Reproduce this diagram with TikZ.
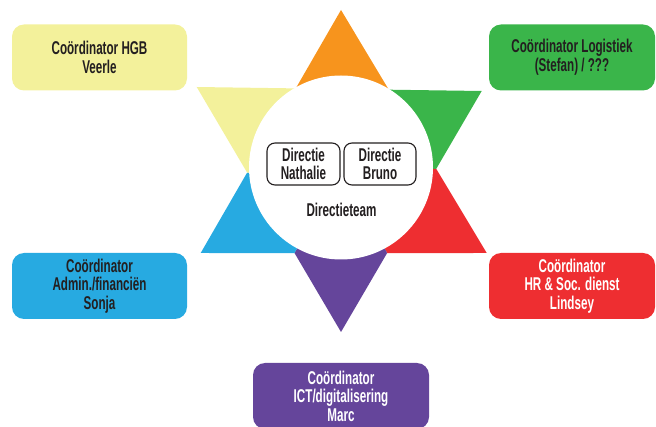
\documentclass[tikz,border=0pt]{standalone}
\usepackage{fontspec}
\setmainfont{Liberation Sans}[FakeStretch=0.63]
\definecolor{ink}{HTML}{231F20}
\definecolor{starorange}{HTML}{F7941D}
\definecolor{stargreen}{HTML}{3AB54A}
\definecolor{starred}{HTML}{EE2E31}
\definecolor{starpurple}{HTML}{65459B}
\definecolor{starblue}{HTML}{27AAE1}
\definecolor{staryellow}{HTML}{F3F19B}
\begin{document}
\begin{tikzpicture}[x=1pt,y=-1pt,
  rolebox/.style={rounded corners=12pt, minimum width=175pt, minimum height=66pt,
    align=center, inner sep=0pt, font=\bfseries\fontsize{18.5}{18.6}\selectfont, text=ink},
  dirbox/.style={draw=ink, line width=1.1pt, rounded corners=8pt, minimum width=73pt,
    minimum height=42pt, align=center, inner sep=0pt, font=\bfseries\fontsize{18.5}{18.6}\selectfont, text=ink}]
\path[use as bounding box] (0,0) rectangle (656,427);
\clip (0,0) rectangle (656,427);

% the two triangles of the star
\coordinate (ua) at (341,10);
\coordinate (ub) at (200.7,253);
\coordinate (uc) at (486.7,253);
\coordinate (da) at (196.7,87);
\coordinate (db) at (481.7,91);
\coordinate (dc) at (341,332);
\coordinate (ctr) at (341,168);
% inner corners of the star
\coordinate (i1) at (intersection of ua--ub and da--db);
\coordinate (i2) at (intersection of ua--uc and da--db);
\coordinate (i3) at (intersection of ua--uc and db--dc);
\coordinate (i4) at (intersection of ub--uc and db--dc);
\coordinate (i5) at (intersection of ub--uc and da--dc);
\coordinate (i6) at (intersection of ua--ub and da--dc);

\fill[starorange] (ctr) -- (i1) -- (ua) -- (i2) -- cycle;
\fill[stargreen]  (ctr) -- (i2) -- (db) -- (i3) -- cycle;
\fill[starred]    (ctr) -- (i3) -- (uc) -- (i4) -- cycle;
\fill[starpurple] (ctr) -- (i4) -- (dc) -- (i5) -- cycle;
\fill[starblue]   (ctr) -- (i5) -- (ub) -- (i6) -- cycle;
\fill[staryellow] (ctr) -- (i6) -- (da) -- (i1) -- cycle;

% central team
\node[circle, fill=white, minimum size=184pt, inner sep=0pt] (hub) at (341,167.5) {};
\node[dirbox] (nathalie) at (303.5,164) {Directie\\Nathalie};
\node[dirbox, minimum width=72pt] (bruno) at (380,164) {Directie\\Bruno};
\node[text=ink, font=\bfseries\fontsize{18.5}{18.6}\selectfont] (team) at (341.5,210) {Directieteam};

% coordinators
\node[rolebox, fill=staryellow] (hgb) at (99.5,57.5) {Coördinator HGB\\Veerle};
\node[rolebox, fill=stargreen, minimum width=166pt] (log) at (572,57.5) {Coördinator Logistiek\\(Stefan) / ???};
\node[rolebox, fill=starblue] (fin) at (99.5,286) {Coördinator\\Admin./financiën\\Sonja};
\node[rolebox, fill=starred, minimum width=166pt, text=white] (hr) at (572,286) {Coördinator\\HR \& Soc. dienst\\Lindsey};
\node[rolebox, fill=starpurple, minimum width=176pt, text=white] (ict) at (341,396) {Coördinator\\ICT/digitalisering\\Marc};
\end{tikzpicture}
\end{document}
